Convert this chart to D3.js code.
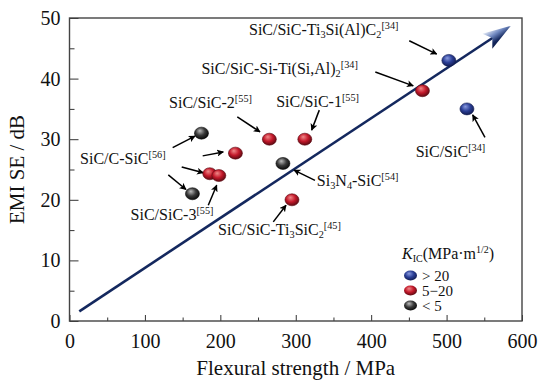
<!DOCTYPE html>
<html>
<head>
<meta charset="utf-8">
<script src="https://cdn.jsdelivr.net/npm/d3@7"></script>
<style>
  body { margin: 0; background: #fff; }
  text { font-family: "Liberation Serif", "Times New Roman", Times, "DejaVu Serif", serif; fill: #111; }
</style>
</head>
<body>
<div id="chart"></div>
<script>
// data
const strength = [175, 220, 186, 198, 265, 312, 283, 468, 503, 527, 163, 295];
const emiSE    = [31, 27.7, 24.3, 24, 30, 30, 26, 38, 43, 35, 21, 20];
const kicGroup = ["low", "mid", "mid", "mid", "mid", "mid", "low", "mid", "high", "high", "low", "mid"];

const xTicks = [0, 100, 200, 300, 400, 500, 600];
const yTicks = [0, 10, 20, 30, 40, 50];

// trend arrow, in data units
const trendStart = [13, 1.6];
const trendEnd = [585, 48.7];

// labels: parts are [text, kind] where kind is n / sub / sup ; pos in data units
const labels = [
  { pos: [238, 47.2], parts: [["SiC/SiC-Ti", "n"], ["3", "sub"], ["Si(Al)C", "n"], ["2", "sub"], ["[34]", "sup"]] },
  { pos: [175, 40.75], parts: [["SiC/SiC-Si-Ti(Si,Al)", "n"], ["2", "sub"], ["[34]", "sup"]] },
  { pos: [132, 35.1], parts: [["SiC/SiC-2", "n"], ["[55]", "sup"]] },
  { pos: [274, 35.3], parts: [["SiC/SiC-1", "n"], ["[55]", "sup"]] },
  { pos: [14, 25.9], parts: [["SiC/C-SiC", "n"], ["[56]", "sup"]] },
  { pos: [81, 16.6], parts: [["SiC/SiC-3", "n"], ["[55]", "sup"]] },
  { pos: [328, 22.25], parts: [["Si", "n"], ["3", "sub"], ["N", "n"], ["4", "sub"], ["-SiC", "n"], ["[54]", "sup"]] },
  { pos: [197, 14.15], parts: [["SiC/SiC-Ti", "n"], ["3", "sub"], ["SiC", "n"], ["2", "sub"], ["[45]", "sup"]] },
  { pos: [459, 27.1], parts: [["SiC/SiC", "n"], ["[34]", "sup"]] }
];

// annotation arrows: [tailX, tailY, headX, headY] in data units
const arrows = [
  [450.5, 46.25, 486.9, 44.05],
  [405.5, 41.1, 455.8, 38.8],
  [550.9, 30.3, 534.6, 34.0],
  [331.2, 34.8, 321.1, 31.5],
  [222.5, 33.7, 252.6, 31.2],
  [325.5, 23.2, 297.7, 24.9],
  [270.2, 16.35, 287.1, 19.1],
  [136.8, 28.6, 166.4, 30.5],
  [148.8, 25.4, 177.4, 24.45],
  [131, 24.1, 154.5, 21.7],
  [176.6, 27.25, 203.9, 27.9],
  [184, 19.1, 195.2, 22.4]
];

const legendGroups = ["high", "mid", "low"];
const legendText = ["> 20", "5\u221220", "< 5"];

const colors = {
  high: { light: "#8a9be0", base: "#2b3f96", dark: "#121c52" },
  mid:  { light: "#f08a8a", base: "#c3182a", dark: "#5c0a12" },
  low:  { light: "#bdbdbd", base: "#3a3a3a", dark: "#0a0a0a" }
};

const margin = { top: 18, right: 17, bottom: 62, left: 69.5 },
    width = 539 - margin.left - margin.right,
    height = 383 - margin.top - margin.bottom;

const root = d3.select("#chart").append("svg")
    .attr("width", 539)
    .attr("height", 383);

const defs = root.append("defs");
Object.entries(colors).forEach(([k, c]) => {
  const g = defs.append("radialGradient")
      .attr("id", "ball-" + k)
      .attr("cx", "45%").attr("cy", "40%").attr("r", "60%")
      .attr("fx", "38%").attr("fy", "30%");
  g.append("stop").attr("offset", "0%").attr("stop-color", c.light);
  g.append("stop").attr("offset", "55%").attr("stop-color", c.base);
  g.append("stop").attr("offset", "100%").attr("stop-color", c.dark);
});

const headLen = 28, headW = 9, notch = 6;
const headGrad = defs.append("linearGradient")
    .attr("id", "trend-head")
    .attr("gradientUnits", "userSpaceOnUse")
    .attr("x1", -headLen / 2).attr("x2", -headLen / 2)
    .attr("y1", -headW).attr("y2", headW);
headGrad.append("stop").attr("offset", "0%").attr("stop-color", "#e6ecf7");
headGrad.append("stop").attr("offset", "40%").attr("stop-color", "#6f87bf");
headGrad.append("stop").attr("offset", "75%").attr("stop-color", "#14285e");
headGrad.append("stop").attr("offset", "100%").attr("stop-color", "#0c1a45");

defs.append("marker")
    .attr("id", "ah")
    .attr("viewBox", "0 0 10 10")
    .attr("refX", 9).attr("refY", 5)
    .attr("markerWidth", 7).attr("markerHeight", 7)
    .attr("markerUnits", "userSpaceOnUse")
    .attr("orient", "auto")
  .append("path")
    .attr("d", "M0,0 L10,5 L0,10 L2.5,5 Z")
    .attr("fill", "#000");

const svg = root.append("g")
    .attr("transform", `translate(${margin.left},${margin.top})`);

const x = d3.scaleLinear().domain([0, 600]).range([0, width]);
const y = d3.scaleLinear().domain([0, 50]).range([height, 0]);

// minor ticks
svg.append("g")
    .attr("transform", `translate(0,${height})`)
    .call(d3.axisBottom(x).tickValues(d3.range(50, 600, 100)).tickSizeInner(-3.5).tickSizeOuter(0).tickFormat(""))
    .call(g => g.select(".domain").remove())
    .selectAll("line").attr("stroke", "#333");
svg.append("g")
    .call(d3.axisLeft(y).tickValues(d3.range(5, 50, 10)).tickSizeInner(-5).tickSizeOuter(0).tickFormat(""))
    .call(g => g.select(".domain").remove())
    .selectAll("line").attr("stroke", "#333");

// major ticks
const xAxis = svg.append("g")
    .attr("transform", `translate(0,${height})`)
    .call(d3.axisBottom(x).tickValues(xTicks).tickSizeInner(-6).tickSizeOuter(0).tickPadding(13));
xAxis.select(".domain").remove();
xAxis.selectAll("line").attr("stroke", "#333");
xAxis.selectAll("text")
    .style("font-size", "20px")
    .attr("fill", "#111");

const yAxis = svg.append("g")
    .call(d3.axisLeft(y).tickValues(yTicks).tickSizeInner(-9).tickSizeOuter(0).tickPadding(9));
yAxis.select(".domain").remove();
yAxis.selectAll("line").attr("stroke", "#333");
yAxis.selectAll("text")
    .style("font-size", "20px")
    .attr("fill", "#111");

// frame
svg.append("rect")
    .attr("width", width)
    .attr("height", height)
    .attr("fill", "none")
    .attr("stroke", "#444")
    .attr("stroke-width", 1.4);

// axis titles
svg.append("text")
    .attr("x", width / 2)
    .attr("y", height + 54)
    .attr("text-anchor", "middle")
    .style("font-size", "21px")
    .text("Flexural strength / MPa");
svg.append("text")
    .attr("transform", `translate(${-46},${height / 2}) rotate(-90)`)
    .attr("text-anchor", "middle")
    .style("font-size", "21px")
    .text("EMI SE / dB");

// trend line with shaded head
const p0 = [x(trendStart[0]), y(trendStart[1])];
const p1 = [x(trendEnd[0]), y(trendEnd[1])];
const ang = Math.atan2(p1[1] - p0[1], p1[0] - p0[0]);
const stop = headLen - notch - 1;
svg.append("line")
    .attr("x1", p0[0]).attr("y1", p0[1])
    .attr("x2", p1[0] - stop * Math.cos(ang)).attr("y2", p1[1] - stop * Math.sin(ang))
    .attr("stroke", "#14285e")
    .attr("stroke-width", 2.6);
svg.append("path")
    .attr("transform", `translate(${p1[0]},${p1[1]}) rotate(${ang * 180 / Math.PI})`)
    .attr("d", `M0,0 L${-headLen},${-headW} L${-headLen + notch},0 L${-headLen},${headW} Z`)
    .attr("fill", "url(#trend-head)");

// annotation arrows
svg.selectAll(".ann")
    .data(arrows)
    .enter().append("line")
    .attr("class", "ann")
    .attr("x1", d => x(d[0])).attr("y1", d => y(d[1]))
    .attr("x2", d => x(d[2])).attr("y2", d => y(d[3]))
    .attr("stroke", "#000")
    .attr("stroke-width", 1.5)
    .attr("marker-end", "url(#ah)");

// points
const pts = strength.map((s, i) => ({ s: s, e: emiSE[i], g: kicGroup[i] }));
svg.selectAll(".dot")
    .data(pts)
    .enter().append("ellipse")
    .attr("class", "dot")
    .attr("cx", d => x(d.s))
    .attr("cy", d => y(d.e))
    .attr("rx", 7)
    .attr("ry", 6)
    .attr("fill", d => `url(#ball-${d.g})`)
    .attr("stroke", d => colors[d.g].dark)
    .attr("stroke-width", 0.6);

// labels with sub / superscripts
function richText(sel, parts, size) {
  let shift = 0;
  parts.forEach(([t, kind]) => {
    const target = kind === "sub" ? 3 : kind === "sup" ? -6 : 0;
    sel.append("tspan")
        .text(t)
        .style("font-size", (kind === "n" ? size : size * 0.64) + "px")
        .attr("dy", target - shift);
    shift = target;
  });
}

labels.forEach(l => {
  const t = svg.append("text")
      .attr("x", x(l.pos[0]))
      .attr("y", y(l.pos[1]));
  richText(t, l.parts, 16);
});

// legend
const lg = svg.append("g")
    .attr("transform", `translate(${402 - margin.left},${258.5 - margin.top})`);
const lt = lg.append("text").attr("x", 0).attr("y", 0);
lt.append("tspan").text("K").style("font-style", "italic").style("font-size", "16px");
lt.append("tspan").text("IC").style("font-size", "10px").attr("dy", 3);
lt.append("tspan").text("(MPa\u00b7m").style("font-size", "16px").attr("dy", -3);
lt.append("tspan").text("1/2").style("font-size", "10px").attr("dy", -6);
lt.append("tspan").text(")").style("font-size", "16px").attr("dy", 6);

legendGroups.forEach((g, i) => {
  lg.append("ellipse")
      .attr("cx", 8.5)
      .attr("cy", 17 + i * 15)
      .attr("rx", 6.5)
      .attr("ry", 5)
      .attr("fill", `url(#ball-${g})`);
  lg.append("text")
      .attr("x", 20)
      .attr("y", 22 + i * 15)
      .style("font-size", "15px")
      .text(legendText[i]);
});
</script>
</body>
</html>
